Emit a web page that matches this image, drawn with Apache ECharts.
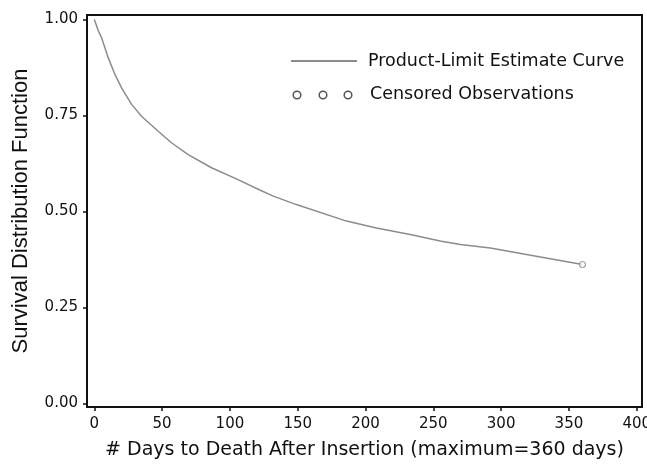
<!DOCTYPE html>
<html>
<head>
<meta charset="utf-8">
<script src="https://cdn.jsdelivr.net/npm/echarts@6/dist/echarts.min.js"></script>
<style>html,body{margin:0;padding:0;background:#fff;}#c{width:647px;height:468px;}</style>
</head>
<body>
<div id="c"></div>
<script>
const days = [0, 1, 3, 5.4, 10.3, 15.2, 20.1, 27.5, 34.8, 47.1, 56.9, 69.2, 86.4, 106, 122, 132, 149, 186, 208, 233, 255, 270, 292, 328, 360];
const survival = [1.0, 0.99, 0.97, 0.952, 0.900, 0.857, 0.822, 0.779, 0.748, 0.709, 0.679, 0.648, 0.614, 0.583, 0.556, 0.540, 0.518, 0.475, 0.457, 0.440, 0.423, 0.414, 0.405, 0.382, 0.362];
const censoredDays = [360];
const censoredSurv = [0.362];
const xTicks = [0, 50, 100, 150, 200, 250, 300, 350, 400];
const yTicks = [0, 0.25, 0.5, 0.75, 1.0];
const legendLine = 'Product-Limit Estimate Curve';
const legendCens = 'Censored Observations';
const xTitle = '# Days to Death After Insertion (maximum=360 days)';
const yTitle = 'Survival Distribution Function';

const chart = echarts.init(document.getElementById('c'), null, {renderer: 'canvas'});
const F = 'DejaVu Sans';
chart.setOption({
  animation: false,
  backgroundColor: '#fff',
  grid: {left: 87, right: 5, top: 15, bottom: 61, outerBoundsMode: 'none', containLabel: false,
         show: true, borderColor: '#111', borderWidth: 2, backgroundColor: 'transparent'},
  xAxis: {
    type: 'value', min: -5.4, max: 403.9,
    axisLine: {show: true, onZero: false, lineStyle: {color: '#111', width: 2}},
    axisTick: {show: true, customValues: xTicks, length: 4, inside: false, lineStyle: {color: '#111', width: 1.5}},
    axisLabel: {customValues: xTicks, margin: 10, color: '#111', fontFamily: F, fontSize: 15},
    splitLine: {show: false},
    name: xTitle, nameLocation: 'middle', nameGap: 34,
    nameTextStyle: {fontFamily: F, fontSize: 19, color: '#111'}
  },
  yAxis: {
    type: 'value', min: -0.0091, max: 1.0117,
    axisLine: {show: true, onZero: false, lineStyle: {color: '#111', width: 2}},
    axisTick: {show: true, customValues: yTicks, length: 4, inside: false, lineStyle: {color: '#111', width: 1.5}},
    axisLabel: {customValues: yTicks, margin: 9, color: '#111', fontFamily: F, fontSize: 15, formatter: v => v.toFixed(2)},
    splitLine: {show: false},
    name: yTitle, nameLocation: 'middle', nameGap: 55,
    nameTextStyle: {fontFamily: 'Liberation Sans', fontSize: 22, color: '#111'}
  },
  series: [
    {type: 'line', name: legendLine, data: days.map((d, i) => [d, survival[i]]), showSymbol: false, symbol: 'none',
     lineStyle: {color: '#8c8c8c', width: 1.5}, z: 2},
    {type: 'scatter', name: legendCens, data: censoredDays.map((d, i) => [d, censoredSurv[i]]), symbol: 'circle', symbolSize: 6,
     itemStyle: {color: '#ffffff', borderColor: '#8c8c8c', borderWidth: 1.2}, z: 3}
  ],
  graphic: [
    {type: 'line', shape: {x1: 291, y1: 61, x2: 357, y2: 61}, style: {stroke: '#666', lineWidth: 1.5}},
    {type: 'text', left: 368, top: 52, style: {text: legendLine, fontFamily: F, fontSize: 17.5, fill: '#111'}},
    {type: 'circle', shape: {cx: 297, cy: 95, r: 3.8}, style: {fill: '#fff', stroke: '#555', lineWidth: 1.5}},
    {type: 'circle', shape: {cx: 323, cy: 95, r: 3.8}, style: {fill: '#fff', stroke: '#555', lineWidth: 1.5}},
    {type: 'circle', shape: {cx: 348, cy: 95, r: 3.8}, style: {fill: '#fff', stroke: '#555', lineWidth: 1.5}},
    {type: 'text', left: 370, top: 85, style: {text: legendCens, fontFamily: F, fontSize: 17.5, fill: '#111'}}
  ]
});
</script>
</body>
</html>
